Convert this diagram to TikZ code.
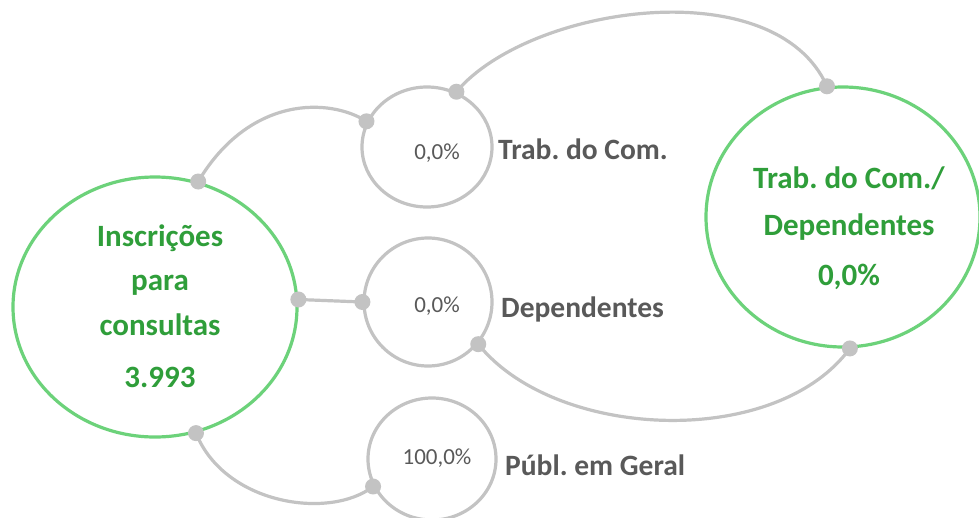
\documentclass[tikz,border=0pt]{standalone}
\usepackage{fontspec}
\setmainfont{Carlito}
\usetikzlibrary{shapes.geometric}
\definecolor{gstroke}{HTML}{6CD27A}
\definecolor{gtext}{HTML}{2F9E3A}
\definecolor{gline}{HTML}{C3C3C3}
\definecolor{dtext}{HTML}{595959}
\frenchspacing
\begin{document}
\begin{tikzpicture}[x=1pt,y=-1pt,
  bigell/.style={draw=gstroke, line width=3.2pt, ellipse, inner sep=0pt, fill=white},
  smallell/.style={draw=gline, line width=3.2pt, ellipse, inner sep=0pt, fill=white},
  conn/.style={draw=gline, line width=3.2pt},
  dotc/.style={circle, fill=gline, inner sep=0pt, minimum size=16pt},
  gtxt/.style={text=gtext, font=\fontsize{31}{37}\selectfont\bfseries, anchor=base, inner sep=0pt},
  lbl/.style={text=dtext, font=\fontsize{29.5}{35}\selectfont\bfseries, anchor=base west, inner sep=0pt},
  pct/.style={text=dtext, font=\fontsize{23}{27}\selectfont, anchor=base, inner sep=0pt}]
\useasboundingbox (0,0) rectangle (979,517);
\fill[white] (0,0) rectangle (979,517);

% shapes
\node[bigell, minimum width=284pt, minimum height=260pt] (L) at (155,307) {};
\node[bigell, minimum width=274pt, minimum height=260pt] (R) at (843,217) {};
\node[smallell, minimum width=130pt, minimum height=120pt] (T) at (427,147) {};
\node[smallell, minimum width=128pt, minimum height=128pt] (M) at (428,302) {};
\node[smallell, minimum width=128pt, minimum height=122pt] (B) at (432,459) {};

% connection points
\coordinate (l1) at (L.71);
\coordinate (l2) at (L.3);
\coordinate (l3) at (L.-72);
\coordinate (t1) at (T.157);
\coordinate (t2) at (T.62);
\coordinate (m1) at (M.180);
\coordinate (m2) at (M.-40);
\coordinate (b1) at (B.-155);
\coordinate (r1) at (R.97);
\coordinate (r2) at (R.-87);

% connectors
\draw[conn] (l1) .. controls (250,95) and (330,98) .. (t1);
\draw[conn] (t2) .. controls (530,5) and (775,-30) .. (r1);
\draw[conn] (l2) -- (m1);
\draw[conn] (m2) .. controls (555,440) and (775,450) .. (r2);
\draw[conn] (l3) .. controls (225,505) and (330,520) .. (b1);

% dots
\foreach \p in {l1,l2,l3,t1,t2,m1,m2,b1,r1,r2}
  \node[dotc] at (\p) {};

% texts
\node[gtxt] (la) at (160,246) {Inscrições};
\node[gtxt] (lb) at (160,290) {para};
\node[gtxt] (lc) at (160,335) {consultas};
\node[gtxt] (ld) at (160,387) {3.993};

\node[gtxt] (ra) at (849,188) {Trab. do Com./};
\node[gtxt] (rb) at (849,235) {Dependentes};
\node[gtxt] (rc) at (849,285) {0,0\%};

\node[pct] (tp) at (437,159) {0,0\%};
\node[pct] (mp) at (437,312) {0,0\%};
\node[pct] (bp) at (437,464) {100,0\%};

\node[lbl] (tl) at (498,159) {Trab. do Com.};
\node[lbl] (ml) at (501,317) {Dependentes};
\node[lbl] (bl) at (505,475) {Públ. em Geral};
\end{tikzpicture}
\end{document}
